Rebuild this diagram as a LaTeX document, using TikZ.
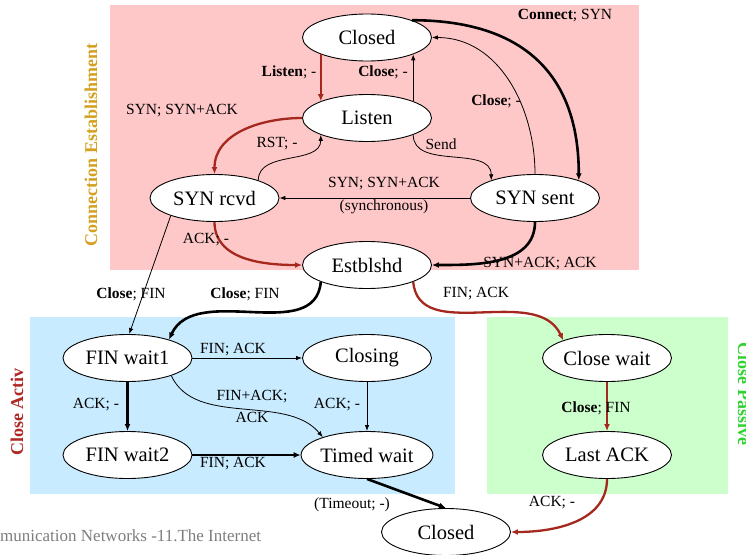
\documentclass[tikz,border=0pt]{standalone}
\usepackage{fontspec}
\setmainfont{Liberation Serif}
\usetikzlibrary{shapes.geometric,arrows.meta}
\definecolor{estbg}{RGB}{255,200,200}
\definecolor{actbg}{RGB}{200,235,255}
\definecolor{pasbg}{RGB}{204,255,204}
\definecolor{tcpred}{RGB}{165,40,30}
\definecolor{estlabel}{RGB}{212,160,32}
\definecolor{actlabel}{RGB}{175,40,35}
\definecolor{paslabel}{RGB}{50,210,50}
\definecolor{footgray}{RGB}{125,125,125}

\begin{document}
\begin{tikzpicture}[x=1pt,y=-1pt,
  state/.style={ellipse,draw,fill=white,line width=0.9pt,minimum width=129pt,
    minimum height=47pt,inner sep=0pt,font=\fontsize{20.5}{24}\selectfont},
  lbl/.style={inner sep=1pt,font=\fontsize{15.5}{22}\selectfont},
  thin edge/.style={draw,line width=0.8pt,-{Latex[length=6pt,width=4.5pt]}},
  heavy edge/.style={draw,line width=2.6pt,-{Latex[length=7pt,width=6pt]}},
  red edge/.style={draw,tcpred,line width=2.3pt,-{Latex[length=7pt,width=6pt]}},
  grouplabel/.style={font=\fontsize{18}{20}\selectfont\bfseries,inner sep=0pt}
]
\useasboundingbox (0,0) rectangle (746,554);

% phase backgrounds
\fill[estbg] (110,5) rectangle (639,270);
\fill[actbg] (30,317) rectangle (455,494);
\fill[pasbg] (487,317) rectangle (728,494);

% phase titles
\node[grouplabel,text=estlabel,rotate=90,anchor=base] (gest) at (97,145) {Connection Establishment};
\node[grouplabel,text=actlabel,rotate=90,anchor=base] (gact) at (23,412) {Close Activ};
\node[grouplabel,text=paslabel,rotate=-90,anchor=base] (gpas) at (738,394) {Close Passive};

% footer
\node[anchor=base west,text=footgray,font=\fontsize{17}{20}\selectfont,inner sep=0pt] (foot) at (0,541) {munication Networks -11.The Internet};

% states
\node[state] (closedtop) at (367,37.5) {Closed};
\node[state] (listen) at (367,118) {Listen};
\node[state] (synrcvd) at (214.5,198) {SYN rcvd};
\node[state] (synsent) at (535,198) {SYN sent};
\node[state] (estab) at (367,265) {Estblshd};
\node[state] (finwaitA) at (127.5,358) {FIN wait1};
\node[state] (closing) at (367,358) {Closing};
\node[state] (finwaitB) at (127.5,455) {FIN wait2};
\node[state] (timedwait) at (367,455) {Timed wait};
\node[state] (closewait) at (607,358) {Close wait};
\node[state] (lastack) at (607,455) {Last ACK};
\node[state] (closedbot) at (446,532) {Closed};

% connection establishment
\draw[heavy edge] (closedtop.21) to[out=0,in=90,looseness=1.2] (synsent.22);
\draw[red edge] (closedtop.200) -- (listen.160);
\draw[thin edge] (listen.20) -- (closedtop.340);
\draw[thin edge] (synsent.north) to[out=90,in=0] (closedtop.east);
\draw[red edge] (listen.west) to[out=180,in=90] (synrcvd.north);
\draw[thin edge] (synrcvd.22) to[out=90,in=-90] (listen.200);
\draw[thin edge] (listen.340) to[out=-90,in=90] (synsent.158);
\draw[thin edge] (synsent.west) -- (synrcvd.east);
\draw[red edge] (synrcvd.south) to[out=-90,in=180] (estab.west);
\draw[heavy edge] (synsent.south) to[out=-90,in=0] (estab.east);

% leaving the established state
\draw[thin edge] (synrcvd.202) -- (finwaitA.86);
\draw[heavy edge] (estab.200) to[out=-95,in=65] (finwaitA.24);
\draw[red edge] (estab.340) to[out=-85,in=115] (closewait.158);

% active close
\draw[thin edge] (finwaitA.east) -- (closing.west);
\draw[heavy edge] (finwaitA.south) -- (finwaitB.north);
\draw[thin edge] (finwaitA.-22) to[out=-65,in=130,looseness=0.9] (timedwait.158);
\draw[thin edge] (closing.south) -- (timedwait.north);
\draw[heavy edge] (finwaitB.east) -- (timedwait.west);
\draw[heavy edge] (timedwait.south) -- (closedbot.north);

% passive close
\draw[red edge] (closewait.south) -- (lastack.north);
\draw[red edge] (lastack.south) to[out=-90,in=0] (closedbot.east);

% transition labels
\node[lbl] (lconnect) at (565,16) {\textbf{Connect}; SYN};
\node[lbl] (llisten) at (289,72) {\textbf{Listen}; -};
\node[lbl] (lcloseA) at (383,72) {\textbf{Close}; -};
\node[lbl] (lcloseB) at (496,101) {\textbf{Close}; -};
\node[lbl] (lsynA) at (182,111) {SYN; SYN+ACK};
\node[lbl] (lrst) at (277,144) {RST; -};
\node[lbl] (lsend) at (441,144) {Send};
\node[lbl] (lsynB) at (384,184) {SYN; SYN+ACK};
\node[lbl] (lsync) at (384,207) {(synchronous)};
\node[lbl] (lackA) at (206,240) {ACK; -};
\node[lbl] (lsynack) at (540,264) {SYN+ACK; ACK};
\node[lbl] (lcloseC) at (131,294) {\textbf{Close}; FIN};
\node[lbl] (lcloseD) at (245,294) {\textbf{Close}; FIN};
\node[lbl] (lfinA) at (476,294) {FIN; ACK};
\node[lbl] (lfinB) at (233,350) {FIN; ACK};
\node[lbl] (lackB) at (96,405) {ACK; -};
\node[lbl,align=center] (lfinack) at (252,406) {FIN+ACK;\\ACK};
\node[lbl] (lackC) at (337,405) {ACK; -};
\node[lbl] (lfinC) at (233,464) {FIN; ACK};
\node[lbl] (ltimeout) at (352,505) {(Timeout; -)};
\node[lbl] (lcloseE) at (596,408) {\textbf{Close}; FIN};
\node[lbl] (lackD) at (552,503) {ACK; -};
\end{tikzpicture}
\end{document}
